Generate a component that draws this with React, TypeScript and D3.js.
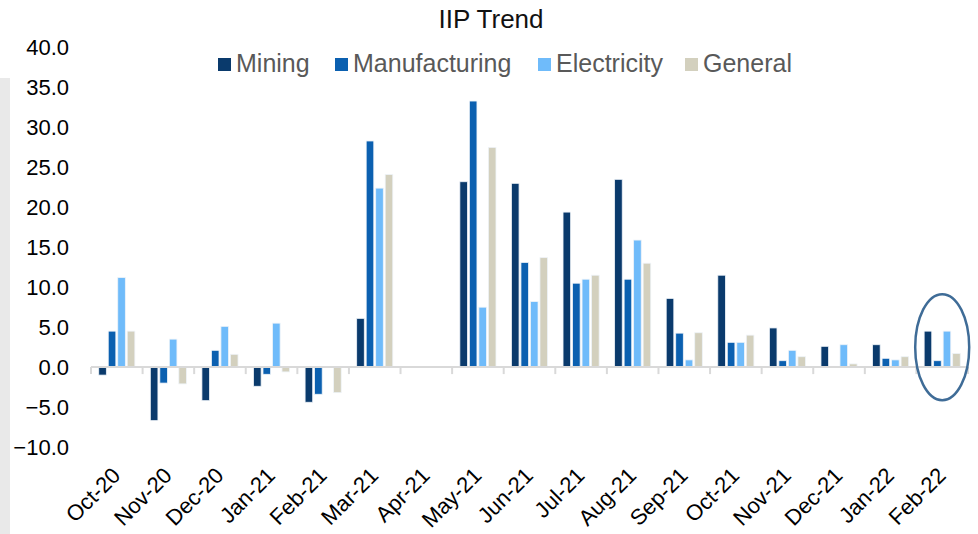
import React, { useEffect, useRef } from 'react';
import * as d3 from 'd3';

const months = [
  'Oct-20', 'Nov-20', 'Dec-20', 'Jan-21', 'Feb-21', 'Mar-21', 'Apr-21', 'May-21', 'Jun-21',
  'Jul-21', 'Aug-21', 'Sep-21', 'Oct-21', 'Nov-21', 'Dec-21', 'Jan-22', 'Feb-22',
];
const seriesNames = ['Mining', 'Manufacturing', 'Electricity', 'General'];
const mining = [-1.0, -6.7, -4.2, -2.4, -4.4, 6.1, 0, 23.2, 23.0, 19.4, 23.5, 8.6, 11.5, 4.9, 2.6, 2.8, 4.5];
const manufacturing = [4.5, -2.0, 2.1, -0.9, -3.4, 28.3, 0, 33.3, 13.1, 10.5, 11.0, 4.25, 3.1, 0.8, 0.1, 1.1, 0.8];
const electricity = [11.2, 3.5, 5.1, 5.5, 0, 22.4, 0, 7.5, 8.2, 11.0, 15.9, 0.9, 3.1, 2.1, 2.8, 0.9, 4.5];
const general = [4.5, -2.1, 1.6, -0.6, -3.2, 24.1, 0, 27.5, 13.7, 11.5, 13.0, 4.3, 4.0, 1.3, 0.4, 1.3, 1.7];
const yTicks = [-10, -5, 0, 5, 10, 15, 20, 25, 30, 35, 40];
const colors = ['#0A3A6C', '#0B60B0', '#6FBBFA', '#D3D0BE'];

const App = () => {
  const ref = useRef<SVGSVGElement>(null);

  useEffect(() => {
    const height = 534;
    const svg = d3.select(ref.current);
    svg.selectAll('*').remove();

    const font = 'Arial, "Liberation Sans", sans-serif';
    const values = [mining, manufacturing, electricity, general];

    // odd grey strip on the left edge of the source image
    svg.append('rect').attr('x', 0).attr('y', 78).attr('width', 10).attr('height', height - 78).attr('fill', '#E9E9E9');

    const x0 = d3.scaleBand<string>().domain(months).range([91, 968]).paddingInner(0.3).paddingOuter(0.15);
    const x1 = d3.scaleBand<string>().domain(seriesNames).range([0, x0.bandwidth()]).paddingInner(0.2);
    const y = d3.scaleLinear().domain([-10, 40]).range([447, 47.5]);

    // y labels
    svg
      .append('g')
      .selectAll('text')
      .data(yTicks)
      .join('text')
      .attr('x', 69)
      .attr('y', (d) => y(d))
      .attr('dy', '0.36em')
      .attr('text-anchor', 'end')
      .attr('font-family', font)
      .attr('font-size', 22)
      .attr('fill', '#000')
      .text((d) => d3.format('.1f')(d));

    // bars
    months.forEach((m, i) => {
      const g = svg.append('g').attr('transform', `translate(${x0(m)},0)`);
      seriesNames.forEach((s, j) => {
        const v = values[j][i];
        if (v === 0) return;
        g.append('rect')
          .attr('x', x1(s)!)
          .attr('y', y(Math.max(0, v)))
          .attr('width', x1.bandwidth())
          .attr('height', Math.abs(y(v) - y(0)))
          .attr('fill', colors[j])
          .attr('stroke', '#EEF3F8')
          .attr('stroke-width', 0.8);
      });
    });

    // zero axis with category ticks
    svg
      .append('line')
      .attr('x1', 91)
      .attr('x2', 968)
      .attr('y1', y(0))
      .attr('y2', y(0))
      .attr('stroke', '#D9D9D9')
      .attr('stroke-width', 2);
    const tickX = months.map((m) => x0(m)! - (x0.step() - x0.bandwidth()) / 2).concat([968]);
    svg
      .append('g')
      .selectAll('line')
      .data(tickX)
      .join('line')
      .attr('x1', (d) => d)
      .attr('x2', (d) => d)
      .attr('y1', y(0))
      .attr('y2', y(0) + 7)
      .attr('stroke', '#D9D9D9')
      .attr('stroke-width', 2);

    // x labels
    svg
      .append('g')
      .selectAll('text')
      .data(months)
      .join('text')
      .attr('transform', (d) => `translate(${x0(d)! + x0.bandwidth() / 2 - 6},${466}) rotate(-45)`)
      .attr('text-anchor', 'end')
      .attr('dy', '0.7em')
      .attr('font-family', font)
      .attr('font-size', 22)
      .attr('fill', '#000')
      .text((d) => d);

    // highlight ellipse on the last month
    const last = months[months.length - 1];
    svg
      .append('ellipse')
      .attr('cx', x0(last)! + x0.bandwidth() / 2)
      .attr('cy', y(2.5))
      .attr('rx', 27)
      .attr('ry', 53)
      .attr('fill', 'none')
      .attr('stroke', '#3F6C97')
      .attr('stroke-width', 2.5);

    // title
    svg
      .append('text')
      .attr('x', 491)
      .attr('y', 28)
      .attr('text-anchor', 'middle')
      .attr('font-family', font)
      .attr('font-size', 26)
      .attr('fill', '#111')
      .text('IIP Trend');

    // legend
    const legendX = [218, 335, 538, 685];
    const legend = svg.append('g');
    seriesNames.forEach((s, j) => {
      legend
        .append('rect')
        .attr('x', legendX[j])
        .attr('y', 58)
        .attr('width', 13)
        .attr('height', 13)
        .attr('fill', colors[j]);
      legend
        .append('text')
        .attr('x', legendX[j] + 18)
        .attr('y', 72)
        .attr('font-family', font)
        .attr('font-size', 25)
        .attr('fill', '#595959')
        .text(s);
    });
  }, []);

  return (
    <svg
      ref={ref}
      width={978}
      height={534}
      style={{ position: 'absolute', left: 0, top: 0, background: '#fff' }}
    />
  );
};

export default App;
